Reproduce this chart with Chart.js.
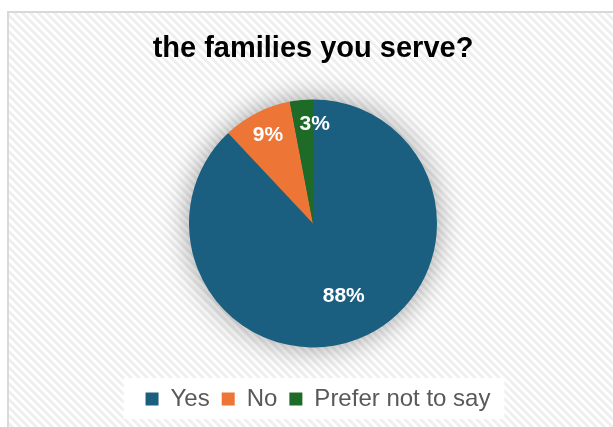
<!DOCTYPE html>
<html>
<head>
<meta charset="utf-8">
<script src="https://cdn.jsdelivr.net/npm/chart.js@4.4.1/dist/chart.umd.min.js"></script>
<style>
  html, body { margin: 0; padding: 0; background: #ffffff; }
  #wrap { position: relative; width: 613px; height: 427px; }
</style>
</head>
<body>
<div id="wrap"><canvas id="pie" width="613" height="427"></canvas></div>
<script>
// Chart data
const categories = ['Yes', 'No', 'Prefer not to say'];
const shares = [88, 9, 3];
const sliceColors = ['#1a5f80', '#ed7535', '#1e6b27'];
const titleLines = ['the families you serve?'];

// label placement along the slice radius, plus small nudge Excel applied
const labelRadius = [0.63, 0.8, 0.8];
const labelNudgeX = [2, 0, 11];

const FONT = 'Arial, "Liberation Sans", sans-serif';

/**
 * Hatched backdrop with the grey frame on top/left
 */
function makeHatch(ctx) {
  const tile = document.createElement('canvas');
  tile.width = 8;
  tile.height = 8;
  const t = tile.getContext('2d');
  t.fillStyle = '#ffffff';
  t.fillRect(0, 0, 8, 8);
  t.fillStyle = '#efefef';
  for (let y = 0; y < 8; y++) {
    for (let x = 0; x < 8; x++) {
      if (((x - y) % 8 + 8) % 8 < 4) t.fillRect(x, y, 1, 1);
    }
  }
  return ctx.createPattern(tile, 'repeat');
}

const backdrop = {
  id: 'backdrop',
  afterLayout(chart) {
    // Excel sits the legend a touch right of centre
    chart.legend.left += 5;
    chart.legend.right += 5;
  },
  beforeDraw(chart) {
    const ctx = chart.ctx;
    ctx.save();
    ctx.fillStyle = '#ffffff';
    ctx.fillRect(0, 0, chart.width, chart.height);
    ctx.fillStyle = makeHatch(ctx);
    ctx.fillRect(9, 13, chart.width - 9, chart.height - 13);
    ctx.fillStyle = '#d9d9d9';
    ctx.fillRect(7, 11, chart.width - 7, 2);
    ctx.fillRect(7, 11, 2, chart.height - 11);

    // white panel behind legend items
    const boxes = chart.legend.legendHitBoxes || [];
    if (boxes.length) {
      const left = Math.min(...boxes.map(b => b.left)) - 22;
      const right = Math.max(...boxes.map(b => b.left + b.width)) + 14;
      const top = chart.legend.top + 3;
      const bottom = chart.legend.bottom - 2;
      ctx.fillStyle = '#ffffff';
      ctx.fillRect(left, top, right - left, bottom - top);
    }
    ctx.restore();
  }
};

/**
 * Soft glow behind the pie
 */
const pieShadow = {
  id: 'pieShadow',
  beforeDatasetsDraw(chart) {
    const arc = chart.getDatasetMeta(0).data[0];
    if (!arc) return;
    const ctx = chart.ctx;
    ctx.save();
    ctx.shadowColor = 'rgba(0,0,0,0.4)';
    ctx.shadowBlur = 30;
    ctx.fillStyle = sliceColors[0];
    ctx.beginPath();
    ctx.arc(arc.x, arc.y, arc.outerRadius - 1, 0, Math.PI * 2);
    ctx.fill();
    ctx.restore();
  }
};

/**
 * Percent labels inside slices
 */
const sliceLabels = {
  id: 'sliceLabels',
  afterDatasetsDraw(chart) {
    const ctx = chart.ctx;
    const total = shares.reduce((a, b) => a + b, 0);
    ctx.save();
    ctx.font = 'bold 21px ' + FONT;
    ctx.fillStyle = '#ffffff';
    ctx.textAlign = 'center';
    ctx.textBaseline = 'middle';
    chart.getDatasetMeta(0).data.forEach((arc, i) => {
      const mid = (arc.startAngle + arc.endAngle) / 2;
      const r = arc.outerRadius * labelRadius[i];
      const x = arc.x + Math.cos(mid) * r + labelNudgeX[i];
      const y = arc.y + Math.sin(mid) * r;
      ctx.fillText(Math.round(shares[i] / total * 100) + '%', x, y);
    });
    ctx.restore();
  }
};

new Chart(document.getElementById('pie').getContext('2d'), {
  type: 'pie',
  data: {
    labels: categories,
    datasets: [{
      data: shares,
      backgroundColor: sliceColors,
      borderWidth: 0,
      radius: 124
    }]
  },
  options: {
    responsive: false,
    animation: false,
    layout: { padding: { left: 13, right: 0, top: 0, bottom: 6 } },
    plugins: {
      title: {
        display: true,
        text: titleLines,
        color: '#000000',
        font: { family: FONT, size: 29, weight: 'bold' },
        padding: { top: 32, bottom: 5 }
      },
      legend: {
        position: 'bottom',
        labels: {
          color: '#595959',
          font: { family: FONT, size: 24 },
          boxWidth: 13,
          boxHeight: 13,
          padding: 12
        }
      },
      tooltip: { enabled: false }
    }
  },
  plugins: [backdrop, pieShadow, sliceLabels]
});
</script>
</body>
</html>
